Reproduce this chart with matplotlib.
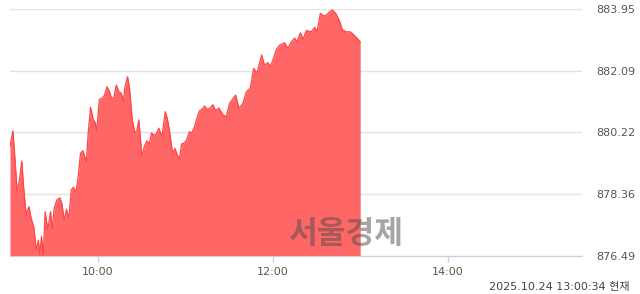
import matplotlib
matplotlib.use('Agg')
import matplotlib.pyplot as plt

plt.rcParams['font.family'] = ['DejaVu Sans', 'Noto Sans CJK KR']

# minutes since 09:00
minutes = [0, 2, 3.3, 4.9, 6.5, 8.1, 9.3, 11.1, 12.9, 14.5, 16.3, 18.0, 19.5, 20.4, 21.6,
           22.8, 24.1, 25.9, 27.8, 28.9, 30.3, 32.1, 34.1, 35.5, 37.2, 38.7, 40.3, 42.0,
           43.5, 45.1, 46.8, 48.3, 49.9, 52.3, 53.6, 55.2, 57.1, 58.4, 59.5, 61.2, 63.2,
           64.8, 66.4, 68.0, 69.6, 71.2, 72.8, 74.6, 76.3, 77.8, 78.7, 80.6, 81.9, 83.8,
           85.6, 86.9, 88.3, 90.4, 92.0, 93.8, 95.5, 97.0, 98.6, 100.3, 102.0, 104.1,
           106.4, 107.8, 109.4, 111.4, 113.0, 114.4, 116.0, 117.6, 119.7, 121.2, 122.9,
           124.7, 126.5, 128.1, 129.9, 131.5, 133.4, 134.9, 136.8, 139.1, 140.9, 143.2,
           145.9, 148.2, 150.5, 154.6, 156.9, 159.6, 162.0, 164.7, 167.0, 169.2, 172.5,
           174.3, 176.8, 178.4, 180.2, 182.5, 184.8, 188.2, 190.5, 192.8, 195.1, 196.7,
           199.0, 200.8, 203.1, 206.5, 208.8, 210.4, 212.7, 215.0, 216.8, 219.1, 220.9,
           223.2, 225.5, 227.8, 230.5, 233.3, 235.5, 237.8, 240]
values = [879.81, 880.27, 879.49, 878.43, 878.79, 879.36, 878.58, 877.73, 877.98, 877.63,
          877.37, 876.67, 876.97, 876.52, 877.09, 876.49, 877.83, 877.28, 877.83, 877.30,
          877.93, 878.18, 878.25, 878.08, 877.58, 877.90, 877.63, 878.48, 878.57, 878.40,
          878.89, 879.59, 879.67, 879.34, 880.20, 880.98, 880.60, 880.52, 880.27, 881.22,
          881.25, 881.35, 881.60, 881.48, 881.25, 881.28, 881.65, 881.45, 881.40, 881.17,
          881.58, 881.91, 881.56, 880.60, 880.20, 880.27, 880.60, 879.49, 879.79, 879.97,
          879.87, 880.21, 880.14, 880.18, 880.35, 880.09, 880.85, 880.65, 880.24, 879.59,
          879.74, 879.57, 879.41, 879.87, 879.91, 880.01, 880.24, 880.21, 880.40, 880.65,
          880.88, 880.92, 881.02, 880.92, 880.95, 881.06, 880.88, 880.96, 880.75, 880.70,
          881.10, 881.35, 880.95, 881.10, 881.45, 881.56, 882.16, 882.01, 882.56, 882.26,
          882.33, 882.21, 882.41, 882.73, 882.86, 882.93, 882.76, 882.96, 883.07, 882.96,
          883.23, 883.04, 883.30, 883.26, 883.40, 883.26, 883.82, 883.74, 883.77, 883.87,
          883.92, 883.82, 883.62, 883.32, 883.26, 883.26, 883.17, 883.07, 882.96]

y_ticks = [876.49, 878.36, 880.22, 882.09, 883.95]
x_ticks = [60, 180, 300]
x_labels = ['10:00', '12:00', '14:00']

fig = plt.figure(figsize=(6.4, 2.94), dpi=100)
ax = fig.add_axes([10 / 640, 38 / 294, 572 / 640, 247 / 294])

ax.fill_between(minutes, values, y_ticks[0], color='#ff6666', linewidth=0)
ax.plot(minutes, values, color='#ff4545', linewidth=0.9)

ax.set_xlim(0, 392)
ax.set_ylim(y_ticks[0], y_ticks[-1])

ax.set_yticks(y_ticks)
ax.set_yticklabels([f'{v:.2f}' for v in y_ticks])
ax.yaxis.tick_right()
ax.tick_params(axis='y', length=0, pad=10, labelsize=8, labelcolor='#555555')
ax.grid(axis='y', color='#e3e3e3', linewidth=1)
ax.set_axisbelow(True)

ax.set_xticks(x_ticks)
ax.set_xticklabels(x_labels)
ax.tick_params(axis='x', length=4, width=1, color='#c5d0e3', pad=4,
               labelsize=8, labelcolor='#555555')

for s in ['top', 'left', 'right']:
    ax.spines[s].set_visible(False)
ax.spines['bottom'].set_color('#c5d0e3')

# watermark
fig.text(345.5 / 640, 1 - 233.5 / 294, '서울경제',
         ha='center', va='center', fontsize=22.5, fontweight='bold',
         family=['Noto Sans CJK KR'], color='#4d4d4d', alpha=0.5)

fig.text(630 / 640, 1 - 287 / 294, '2025.10.24 13:00:34 현재',
         ha='right', va='center', fontsize=8, color='#444444')

fig.savefig('out.png', dpi=100)
